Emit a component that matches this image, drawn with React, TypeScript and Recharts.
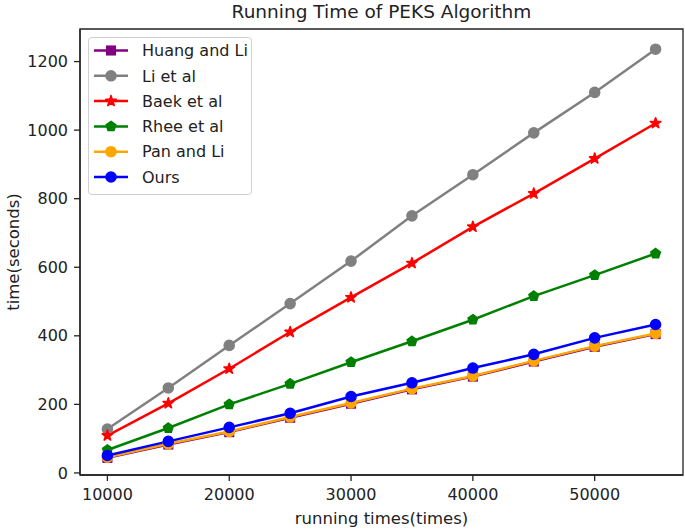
import React from 'react';
import { LineChart, Line, XAxis, YAxis, Legend, ReferenceArea, Label } from 'recharts';

const runningTimes = [10000, 15000, 20000, 25000, 30000, 35000, 40000, 45000, 50000, 55000];
const huangAndLi = [44, 83, 119, 161, 202, 244, 281, 325, 368, 405];
const liEtAl = [128, 248, 372, 494, 618, 750, 870, 992, 1110, 1236];
const baekEtAl = [109, 203, 304, 411, 512, 612, 718, 815, 917, 1020];
const rheeEtAl = [67, 131, 200, 260, 323, 384, 447, 516, 577, 640];
const panAndLi = [46, 85, 121, 163, 204, 246, 283, 327, 370, 407];
const ours = [51, 92, 133, 174, 223, 263, 306, 346, 394, 433];

const xTicks = [10000, 20000, 30000, 40000, 50000];
const yTicks = [0, 200, 400, 600, 800, 1000, 1200];
const xDomain: [number, number] = [7750, 57250];
const yDomain: [number, number] = [-6, 1295];

type Shape = 'square' | 'circle' | 'star' | 'pentagon';
const seriesDefs: { key: string; name: string; color: string; shape: Shape; values: number[] }[] = [
  { key: 'huang', name: 'Huang and Li', color: 'purple', shape: 'square', values: huangAndLi },
  { key: 'li', name: 'Li et al', color: 'gray', shape: 'circle', values: liEtAl },
  { key: 'baek', name: 'Baek et al', color: 'red', shape: 'star', values: baekEtAl },
  { key: 'rhee', name: 'Rhee et al', color: 'green', shape: 'pentagon', values: rheeEtAl },
  { key: 'pan', name: 'Pan and Li', color: 'orange', shape: 'circle', values: panAndLi },
  { key: 'ours', name: 'Ours', color: 'blue', shape: 'circle', values: ours },
];

const data = runningTimes.map((t, i) => {
  const row: Record<string, number> = { t };
  seriesDefs.forEach((s) => {
    row[s.key] = s.values[i];
  });
  return row;
});

const FONT = 'DejaVu Sans, sans-serif';
const TEXT = '#222';
const MS = 10; // marker size px
const MEW = 1.6; // marker edge width

function polyPath(cx: number, cy: number, pts: [number, number][]) {
  return pts.map((p, i) => `${i === 0 ? 'M' : 'L'}${(cx + p[0]).toFixed(2)},${(cy + p[1]).toFixed(2)}`).join(' ') + ' Z';
}

function starPts(R: number, r: number): [number, number][] {
  const out: [number, number][] = [];
  for (let i = 0; i < 10; i++) {
    const a = -Math.PI / 2 + (i * Math.PI) / 5;
    const rad = i % 2 === 0 ? R : r;
    out.push([rad * Math.cos(a), rad * Math.sin(a)]);
  }
  return out;
}

function pentPts(R: number): [number, number][] {
  const out: [number, number][] = [];
  for (let i = 0; i < 5; i++) {
    const a = -Math.PI / 2 + (i * 2 * Math.PI) / 5;
    out.push([R * Math.cos(a), R * Math.sin(a)]);
  }
  return out;
}

function MarkerShape({ shape, cx, cy, color }: { shape: Shape; cx: number; cy: number; color: string }) {
  const common = { fill: color, stroke: color, strokeWidth: MEW, strokeLinejoin: 'miter' as const };
  if (shape === 'square') {
    const s = MS * 0.85;
    return <rect x={cx - s / 2} y={cy - s / 2} width={s} height={s} {...common} />;
  }
  if (shape === 'circle') {
    return <circle cx={cx} cy={cy} r={MS / 2} {...common} />;
  }
  if (shape === 'star') {
    return <path d={polyPath(cx, cy, starPts(MS * 0.55, MS * 0.55 * 0.381966))} {...common} strokeLinejoin="round" />;
  }
  return <path d={polyPath(cx, cy, pentPts(MS / 2))} {...common} />;
}

function LegendBox() {
  const rowY = [13.5, 38.8, 64.1, 89.4, 114.7, 140];
  return (
    <svg width={164} height={158} style={{ display: 'block' }}>
      <rect x={0.5} y={0.5} width={163} height={157} rx={3} ry={3} fill="#fff" fillOpacity={0.8} stroke="#d0d0d0" strokeWidth={1} />
      {seriesDefs.map((s, i) => (
        <g key={s.key}>
          <line x1={6} x2={40} y1={rowY[i]} y2={rowY[i]} stroke={s.color} strokeWidth={2.5} />
          <MarkerShape shape={s.shape} cx={23} cy={rowY[i]} color={s.color} />
          <text x={54} y={rowY[i]} dy="0.36em" fontFamily={FONT} fontSize={16} fill={TEXT}>
            {s.name}
          </text>
        </g>
      ))}
    </svg>
  );
}

export default function App() {
  return (
    <div style={{ position: 'absolute', left: 0, top: 0, width: 685, height: 530, background: '#fff', fontFamily: FONT }}>
      <div
        style={{
          position: 'absolute',
          left: 80,
          width: 603,
          top: 1,
          textAlign: 'center',
          fontSize: 18.5,
          fontFamily: FONT,
          color: TEXT,
          lineHeight: '22px',
          whiteSpace: 'nowrap',
        }}
      >
        Running Time of PEKS Algorithm
      </div>
      <LineChart width={685} height={530} data={data} margin={{ top: 29, right: 2, bottom: 0, left: 0 }}>
        <XAxis
          dataKey="t"
          type="number"
          domain={xDomain}
          ticks={xTicks}
          allowDataOverflow
          height={55}
          tickSize={6}
          tickMargin={8}
          interval={0}
          axisLine={{ stroke: TEXT, strokeWidth: 1.3 }}
          tickLine={{ stroke: TEXT, strokeWidth: 1.3 }}
          tick={{ fill: TEXT, fontSize: 16, fontFamily: FONT }}
        >
          <Label value="running times(times)" position="insideBottom" offset={6} fill={TEXT} fontSize={16.5} fontFamily={FONT} />
        </XAxis>
        <YAxis
          type="number"
          domain={yDomain}
          ticks={yTicks}
          allowDataOverflow
          width={80}
          tickSize={6}
          tickMargin={6}
          interval={0}
          axisLine={{ stroke: TEXT, strokeWidth: 1.3 }}
          tickLine={{ stroke: TEXT, strokeWidth: 1.3 }}
          tick={{ fill: TEXT, fontSize: 16, fontFamily: FONT }}
        >
          <Label
            value="time(seconds)"
            angle={-90}
            position="insideLeft"
            offset={13}
            fill={TEXT}
            fontSize={16.5}
            fontFamily={FONT}
            style={{ textAnchor: 'middle' }}
          />
        </YAxis>
        <ReferenceArea
          x1={xDomain[0]}
          x2={xDomain[1]}
          y1={yDomain[0]}
          y2={yDomain[1]}
          fill="none"
          stroke={TEXT}
          strokeWidth={1.3}
          ifOverflow="visible"
        />
        {seriesDefs.map((s) => (
          <Line
            key={s.key}
            dataKey={s.key}
            name={s.name}
            stroke={s.color}
            strokeWidth={2.5}
            isAnimationActive={false}
            activeDot={false}
            dot={(props: any) => (
              <MarkerShape key={`${s.key}-${props.index}`} shape={s.shape} cx={props.cx} cy={props.cy} color={s.color} />
            )}
          />
        ))}
        <Legend
          layout="horizontal"
          verticalAlign="middle"
          align="center"
          wrapperStyle={{ left: 88, top: 37, width: 164, height: 158 }}
          content={() => <LegendBox />}
        />
      </LineChart>
    </div>
  );
}
